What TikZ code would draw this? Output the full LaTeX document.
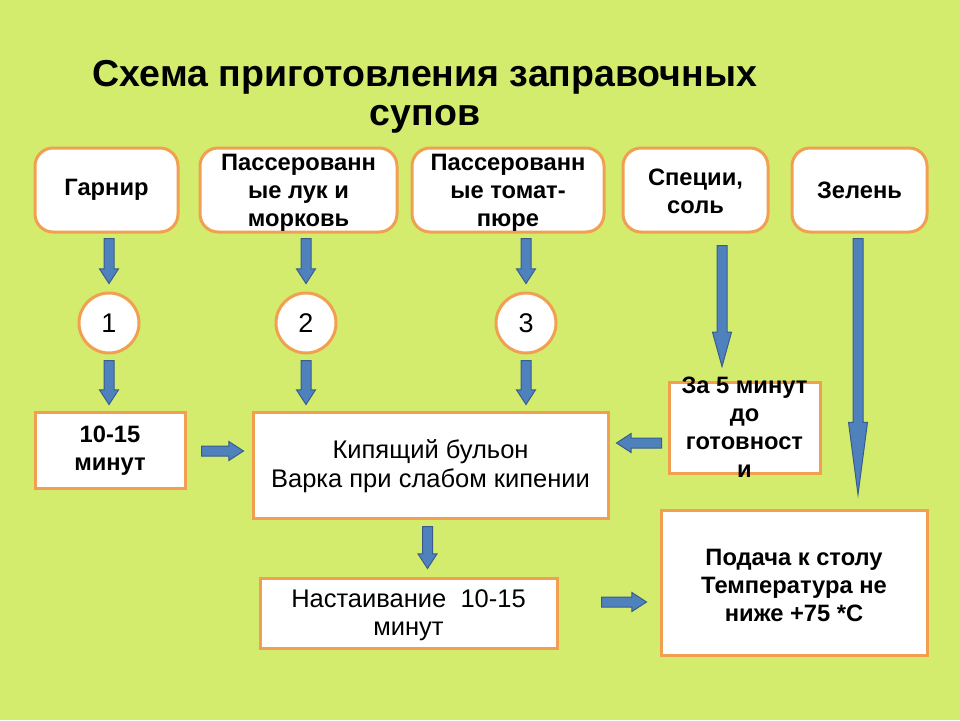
\documentclass[tikz,border=0pt]{standalone}
\usepackage{fontspec}
\setmainfont{Liberation Sans}
\usetikzlibrary{calc,shapes.arrows}
\definecolor{bgc}{RGB}{212,236,110}
\definecolor{brd}{RGB}{240,160,80}
\definecolor{afill}{RGB}{79,129,189}
\definecolor{aline}{RGB}{56,93,138}
\tikzset{
  topbox/.style={draw=brd, line width=3pt, fill=white, rounded corners=18pt, minimum height=84pt, inner sep=0pt},
  sqbox/.style={draw=brd, line width=3pt, fill=white, inner sep=0pt},
  circ/.style={circle, draw=brd, line width=3pt, fill=white, minimum size=60pt, inner sep=0pt, font=\fontsize{27}{28}\selectfont},
  btxt/.style={align=center, inner sep=0pt, font=\fontsize{23.7}{28}\selectfont\bfseries},
  rtxt/.style={align=center, inner sep=0pt, font=\fontsize{25.5}{28.5}\selectfont},
  barr/.style={single arrow, draw=aline, fill=afill, line width=1pt, inner xsep=0pt, inner ysep=4.5pt, single arrow head extend=4.5pt, outer sep=0pt}
}
\newcommand{\blk}[3]{%
  \path let \p1=(#1), \p2=(#2), \n1={atan2(\y2-\y1,\x2-\x1)}, \n2={veclen(\x2-\x1,\y2-\y1)} in
    node[barr, single arrow tip angle=#3, minimum height=\n2, rotate=\n1, anchor=tail] at (\p1) {};%
}
\begin{document}
\begin{tikzpicture}[x=1pt,y=-1pt]
\useasboundingbox (0,0) rectangle (960,720);
\fill[bgc] (0,0) rectangle (960,720);
% title
\node[align=center, inner sep=0pt, font=\fontsize{37.5}{39}\selectfont\bfseries] (title) at (425,97) {Схема приготовления заправочных\\супов};
% top boxes
\node[topbox, minimum width=143pt] (g) at (106.5,190) {};
\node[btxt] (gt) at (g) {Гарнир};
\node[topbox, minimum width=197pt] (p1) at (298.5,190) {};
\node[btxt] (p1t) at (298.5,193) {Пассерованн\\ые лук и\\морковь};
\node[topbox, minimum width=192pt] (p2) at (508,190) {};
\node[btxt] (p2t) at (508,193) {Пассерованн\\ые томат-\\пюре};
\node[topbox, minimum width=145pt] (s) at (695.5,190) {};
\node[btxt] (st) at (695.5,191) {Специи,\\соль};
\node[topbox, minimum width=135pt] (z) at (859.5,190) {};
\node[btxt] (zt) at (z) {Зелень};
% circles
\node[circ] (c1) at (109,323) {1};
\node[circ] (c2) at (306,323) {2};
\node[circ] (c3) at (526,323) {3};
% boxes
\node[sqbox, minimum width=150pt, minimum height=76pt] (t) at (110,450) {};
\node[btxt] (tt) at (110,451) {10-15\\ минут};
\node[sqbox, minimum width=355pt, minimum height=106pt] (k) at (430.5,465) {};
\node[rtxt] (kt) at (430.5,466) {Кипящий бульон\\Варка при слабом кипении};
\node[sqbox, minimum width=151pt, minimum height=91pt] (f) at (744.5,427.5) {};
\node[btxt] (ft) at (744.5,427) {За 5 минут\\до\\готовност\\и};
\node[sqbox, minimum width=266pt, minimum height=145pt] (pd) at (794,582.5) {};
\node[btxt] (pdt) at (794,585) {Подача к столу\\Температура не\\ниже +75 *С};
\node[sqbox, minimum width=297pt, minimum height=70pt] (n) at (408.5,613) {};
\node[rtxt] (nt) at (408.5,615) {Настаивание~~10-15\\ минут};
% arrows
\blk{$(g.south -| c1)+(0,5)$}{$(c1.north)+(0,-8)$}{66}
\blk{$(p1.south -| c2)+(0,5)$}{$(c2.north)+(0,-8)$}{66}
\blk{$(p2.south -| c3)+(0,5)$}{$(c3.north)+(0,-8)$}{66}
\blk{$(c1.south)+(0,6)$}{$(t.north -| c1)+(0,-6)$}{66}
\blk{$(c2.south)+(0,6)$}{$(k.north -| c2)+(0,-6)$}{66}
\blk{$(c3.south)+(0,6)$}{$(k.north -| c3)+(0,-6)$}{66}
\blk{$(s.south -| 722,0)+(0,12)$}{$(f.north -| 722,0)+(0,-14)$}{31}
\blk{$(z.south -| 858,0)+(0,5)$}{$(pd.north -| 858,0)+(0,-14)$}{15}
\blk{$(t.east)+(15,1)$}{$(k.west |- t.east)+(-8,1)$}{66}
\blk{$(f.west)+(-6,15.5)$}{$(k.east |- f.west)+(7,15.5)$}{66}
\blk{$(k.south)+(-3,7)$}{$(k.south |- n.north)+(-3,-8)$}{66}
\blk{$(n.east)+(43,-11)$}{$(n.east -| pd.west)+(-13,-11)$}{66}
\end{tikzpicture}
\end{document}
